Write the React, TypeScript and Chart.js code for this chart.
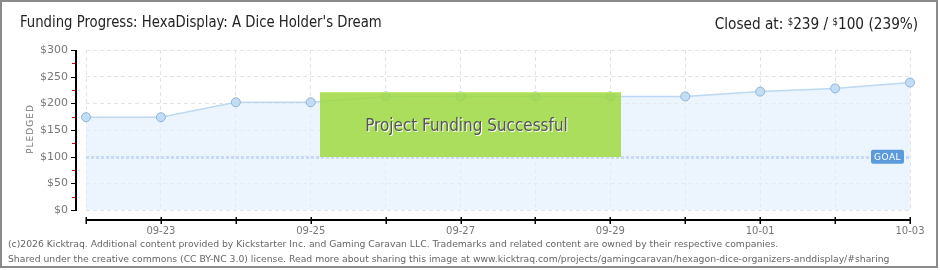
import React, { useEffect, useRef } from "react";
import { Chart, registerables } from "chart.js";

Chart.register(...registerables);

// Daily pledge totals
const dates = ["09-22", "09-23", "09-24", "09-25", "09-26", "09-27", "09-28", "09-29", "09-30", "10-01", "10-02", "10-03"];
const pledged = [174, 174, 202, 202, 213, 213, 213, 213, 213, 222, 228, 239];
const goal = 100;
const yTicks = [0, 50, 100, 150, 200, 250, 300];
const title = "Funding Progress: HexaDisplay: A Dice Holder's Dream";
const footer1 = "(c)2026 Kicktraq. Additional content provided by Kickstarter Inc. and Gaming Caravan LLC. Trademarks and related content are owned by their respective companies.";
const footer2 = "Shared under the creative commons (CC BY-NC 3.0) license. Read more about sharing this image at www.kicktraq.com/projects/gamingcaravan/hexagon-dice-organizers-anddisplay/#sharing";

const decorPlugin = {
  id: "kicktraqDecor",
  beforeDatasetsDraw(chart: any) {
    const { ctx, chartArea, scales } = chart;
    const y = scales.y;
    const gy = Math.round(y.getPixelForValue(goal)) + 0.5;
    ctx.save();
    ctx.strokeStyle = "#94bae4";
    ctx.lineWidth = 3;
    ctx.setLineDash([3, 2]);
    ctx.beginPath();
    ctx.moveTo(chartArea.left, gy);
    ctx.lineTo(chartArea.right, gy);
    ctx.stroke();
    ctx.restore();
  },
  afterDatasetsDraw(chart: any) {
    const { ctx, chartArea, scales } = chart;
    const x = scales.x;
    const y = scales.y;
    ctx.save();

    // y axis line with major (black) and minor (red) ticks
    const ax = chartArea.left - 10;
    ctx.fillStyle = "#000";
    ctx.fillRect(ax - 1, chartArea.top, 2, chartArea.bottom - chartArea.top + 1);
    yTicks.forEach((v) => {
      const py = Math.round(y.getPixelForValue(v));
      ctx.fillStyle = "#000";
      ctx.fillRect(ax - 5, py, 6, 1);
      if (v < 300) {
        const my = Math.round(y.getPixelForValue(v + 25));
        ctx.fillStyle = "#e00000";
        ctx.fillRect(ax - 4, my, 3, 1);
      }
    });

    // x axis line with a tick at each day
    const axY = chartArea.bottom + 10;
    ctx.fillStyle = "#000";
    ctx.fillRect(chartArea.left, axY - 1, chartArea.right - chartArea.left + 1, 2);
    dates.forEach((_, i) => {
      const px = Math.round(x.getPixelForValue(i));
      ctx.fillRect(px - 0.5, axY - 3, 1.5, 7);
    });

    // axis title
    ctx.save();
    ctx.translate(31, (chartArea.top + chartArea.bottom) / 2 - 1);
    ctx.rotate(-Math.PI / 2);
    ctx.fillStyle = "#777";
    ctx.font = "9px 'DejaVu Sans'";
    ctx.textAlign = "center";
    ctx.textBaseline = "middle";
    (ctx as any).letterSpacing = "1px";
    ctx.fillText("PLEDGED", 0, 0);
    ctx.restore();

    // goal tag
    const gy = y.getPixelForValue(goal);
    const tx = chartArea.right - 39;
    ctx.fillStyle = "#5b9bdc";
    ctx.beginPath();
    (ctx as any).roundRect(tx, gy - 7, 33, 14, 2);
    ctx.fill();
    ctx.fillStyle = "#fff";
    ctx.font = "9px 'DejaVu Sans'";
    ctx.textAlign = "left";
    ctx.textBaseline = "middle";
    (ctx as any).letterSpacing = "0.5px";
    ctx.fillText("GOAL", tx + 3, gy + 0.5);
    (ctx as any).letterSpacing = "0px";

    // funded banner
    const bx = 320, by = 92, bw = 301, bh = 65;
    ctx.fillStyle = "rgba(160, 218, 66, 0.86)";
    ctx.fillRect(bx, by, bw, bh);
    ctx.fillStyle = "rgba(200, 240, 120, 0.8)";
    ctx.fillRect(bx, by, bw, 1);
    ctx.font = "18px 'DejaVu Sans Condensed', sans-serif";
    ctx.textAlign = "center";
    ctx.textBaseline = "middle";
    const cx = bx + bw / 2 - 4;
    const cy = by + bh / 2 + 2;
    ctx.save();
    ctx.translate(cx, cy);
    ctx.scale(0.94, 1);
    ctx.fillStyle = "#ffffff";
    ctx.fillText("Project Funding Successful", 1, 1);
    ctx.fillStyle = "#555555";
    ctx.fillText("Project Funding Successful", 0, 0);
    ctx.restore();
    ctx.restore();
  },
};

export default function App() {
  const ref = useRef<HTMLCanvasElement | null>(null);

  useEffect(() => {
    document.body.style.margin = "0";
    const chart = new Chart(ref.current as HTMLCanvasElement, {
      type: "line",
      data: {
        labels: dates,
        datasets: [
          {
            data: pledged,
            borderColor: "#bcd8f3",
            borderWidth: 1.5,
            backgroundColor: "rgba(226, 238, 252, 0.65)",
            fill: "origin",
            tension: 0,
            pointRadius: 4.5,
            pointBackgroundColor: "#c3ddf6",
            pointBorderColor: "#90b2d4",
            pointBorderWidth: 1,
          },
        ],
      },
      options: {
        animation: false,
        responsive: false,
        events: [],
        layout: { padding: { top: 50, right: 30, left: 0, bottom: 0 } },
        plugins: { legend: { display: false }, tooltip: { enabled: false } },
        scales: {
          x: {
            offset: false,
            grid: { color: "#e3e3e3", drawTicks: false, lineWidth: 1 },
            border: { display: false, dash: [4, 3] },
            ticks: {
              autoSkip: false,
              maxRotation: 0,
              padding: 15,
              color: "#777",
              font: { family: "'DejaVu Sans'", size: 10 },
              callback: (_v: any, i: number) => (i % 2 === 1 ? dates[i] : ""),
            },
            afterFit: (s: any) => {
              s.height = 60;
            },
          },
          y: {
            min: 0,
            max: 300,
            afterBuildTicks: (s: any) => {
              s.ticks = yTicks.map((v) => ({ value: v }));
            },
            grid: { color: "#e3e3e3", drawTicks: false, lineWidth: 1 },
            border: { display: false, dash: [4, 3] },
            ticks: {
              padding: 18,
              color: "#777",
              font: { family: "'DejaVu Sans'", size: 11 },
              callback: (v: any) => "$" + v,
            },
            afterFit: (s: any) => {
              s.width = 86;
            },
          },
        },
      },
      plugins: [decorPlugin],
    });
    return () => chart.destroy();
  }, []);

  const head: React.CSSProperties = {
    position: "absolute",
    top: 12,
    fontFamily: "'DejaVu Sans Condensed', sans-serif",
    fontSize: 16,
    color: "#222",
    whiteSpace: "nowrap",
    lineHeight: "20px",
  };
  const foot: React.CSSProperties = {
    position: "absolute",
    left: 8,
    fontFamily: "'DejaVu Sans', sans-serif",
    fontSize: 9.25,
    color: "#666",
    whiteSpace: "nowrap",
    lineHeight: "12px",
  };
  const sup: React.CSSProperties = { fontSize: 10, verticalAlign: 4 };

  return (
    <div style={{ position: "fixed", left: 0, top: 0, width: 940, height: 270, background: "#fff", overflow: "hidden" }}>
      <canvas ref={ref} width={940} height={270} style={{ position: "absolute", left: 0, top: 0, width: 940, height: 270 }} />
      <div style={{ ...head, left: 20, transform: "scaleX(0.92)", transformOrigin: "left center" }}>{title}</div>
      <div style={{ ...head, right: 22, transform: "scaleX(0.95)", transformOrigin: "right center" }}>
        Closed at: <span style={sup}>$</span>239 / <span style={sup}>$</span>100 (239%)
      </div>
      <div style={{ ...foot, top: 238 }}>{footer1}</div>
      <div style={{ ...foot, top: 253 }}>{footer2}</div>
      <div style={{ position: "absolute", left: 0, top: 0, width: 938, height: 268, boxSizing: "border-box", border: "2px solid #8a8a8a", pointerEvents: "none" }} />
    </div>
  );
}
